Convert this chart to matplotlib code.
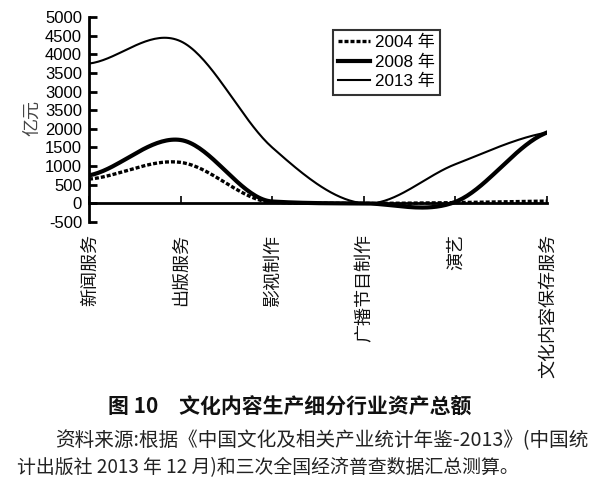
import numpy as np
import matplotlib
matplotlib.use("Agg")
import matplotlib.pyplot as plt
import matplotlib.transforms as mtransforms

plt.rcParams['font.family'] = ['Liberation Sans', 'Noto Sans CJK SC', 'DejaVu Sans']

categories = ["新闻服务", "出版服务", "影视制作", "广播节目制作", "演艺", "文化内容保存服务"]
y2004 = [650, 1100, 30, 0, 20, 60]
y2008 = [750, 1700, 50, 0, 40, 1900]
y2013 = [3750, 4350, 1500, 0, 1050, 1900]
yticks = [-500, 0, 500, 1000, 1500, 2000, 2500, 3000, 3500, 4000, 4500, 5000]
ytick_labels = ["-500", "0", "500", "1000", "1500", "2000", "3500", "3000", "3500", "4000", "4500", "5000"]


def smooth(vals, n=40):
    # smoothed line through the points (cardinal spline, tangents damped
    # where a steep drop runs into a flat stretch)
    p = np.asarray(vals, dtype=float)
    k = len(p)
    m = np.zeros(k)
    for i in range(k):
        lo = max(i - 1, 0)
        hi = min(i + 1, k - 1)
        m[i] = (p[hi] - p[lo]) / 2
    for i in range(k - 1):
        d = p[i + 1] - p[i]
        if d == 0:
            continue
        a, b = m[i] / d, m[i + 1] / d
        if a > 0 and b > 0 and a * a + b * b > 9:
            tau = 3 / np.hypot(a, b)
            m[i] = tau * a * d
            m[i + 1] = tau * b * d
    xs, ys = [], []
    t = np.linspace(0, 1, n)
    h00 = 2 * t**3 - 3 * t**2 + 1
    h10 = t**3 - 2 * t**2 + t
    h01 = -2 * t**3 + 3 * t**2
    h11 = t**3 - t**2
    for i in range(k - 1):
        xs.append(i + t)
        ys.append(h00 * p[i] + h10 * m[i] + h01 * p[i + 1] + h11 * m[i + 1])
    return np.concatenate(xs), np.concatenate(ys)


fig = plt.figure(figsize=(6, 4.94), dpi=100)
ax = fig.add_axes([0.1483, 0.5506, 0.7633, 0.415])

x, y = smooth(y2004)
ax.plot(x, y, color="black", lw=2.4, ls=(0, (1.2, 0.6)), label="2004 年")
x, y = smooth(y2008)
ax.plot(x, y, color="black", lw=3.0, label="2008 年")
x, y = smooth(y2013)
ax.plot(x, y, color="black", lw=1.5, label="2013 年")

ax.set_xlim(0, len(categories) - 1)
ax.set_ylim(-500, 5000)
ax.spines["top"].set_visible(False)
ax.spines["right"].set_visible(False)
ax.spines["bottom"].set_position(("data", 0))
ax.spines["bottom"].set_linewidth(2)
ax.spines["left"].set_linewidth(2)

ax.set_yticks(yticks)
ax.set_yticklabels(ytick_labels)
ax.tick_params(axis="y", direction="in", length=6, width=2, labelsize=12, pad=5)
ax.set_xticks(range(len(categories)))
ax.set_xticklabels([])
ax.tick_params(axis="x", direction="in", length=5, width=1.2)

trans = mtransforms.blended_transform_factory(ax.transData, ax.transAxes)
for i, c in enumerate(categories):
    ax.text(i + 0.008, -0.06, c, transform=trans, rotation=90, ha="center", va="top",
            fontsize=13, family=["Noto Sans CJK SC"], color="#111111")

ax.text(-0.125, 0.507, "亿元", transform=ax.transAxes, rotation=90, ha="center",
        va="center", fontsize=13, family=["Noto Sans CJK SC"], color="#444444")

leg = ax.legend(loc="upper left", bbox_to_anchor=(0.532, 0.937), fontsize=12.3,
                frameon=True, fancybox=False, borderpad=0.3, labelspacing=0.25,
                handlelength=1.9, handletextpad=0.3, borderaxespad=0)
leg.get_frame().set_edgecolor("black")
leg.get_frame().set_linewidth(1.5)

fig.text(0.482, 0.176, "图 10　文化内容生产细分行业资产总额", ha="center", va="center",
         fontsize=15, fontweight="bold", family=["Noto Sans CJK SC", "DejaVu Sans"],
         color="#111111")
fig.text(0.092, 0.109, "资料来源:根据《中国文化及相关产业统计年鉴-2013》(中国统", ha="left",
         va="center", fontsize=14.1, family=["Noto Sans CJK SC", "DejaVu Sans"],
         color="#222222")
fig.text(0.028, 0.053, "计出版社 2013 年 12 月)和三次全国经济普查数据汇总测算。", ha="left",
         va="center", fontsize=13.6, family=["Noto Sans CJK SC", "DejaVu Sans"],
         color="#222222")

fig.savefig("out.png", dpi=100, facecolor="white")
